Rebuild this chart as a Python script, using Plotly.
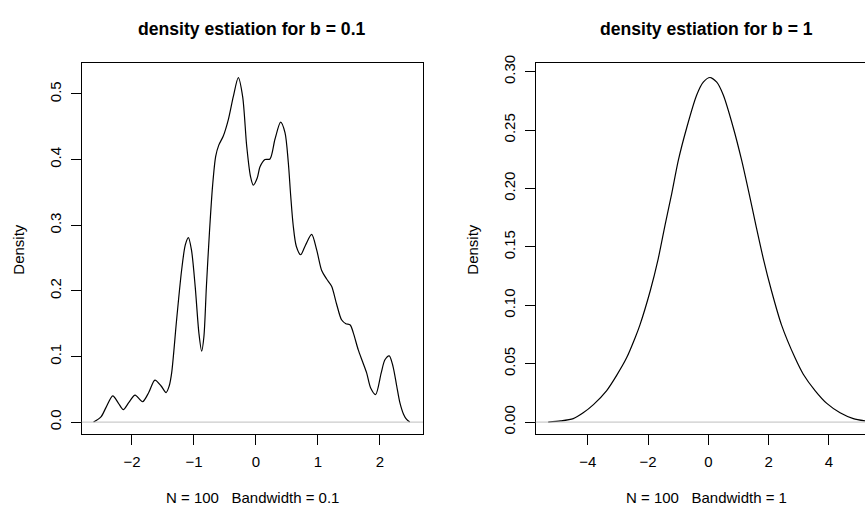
import plotly.graph_objects as go

W, H = 865, 510

# ---- data ----
x_b01 = [-2.62, -2.50, -2.42, -2.31, -2.22, -2.14, -2.05, -1.95, -1.83, -1.73,
         -1.63, -1.53, -1.45, -1.40, -1.36, -1.28, -1.20, -1.14, -1.09, -1.04,
         -0.98, -0.92, -0.876, -0.84, -0.80, -0.75, -0.70, -0.65, -0.60, -0.527,
         -0.446, -0.366, -0.285, -0.215, -0.15, -0.09, -0.043, 0.02, 0.065, 0.145,
         0.226, 0.306, 0.398, 0.468, 0.521, 0.56, 0.60, 0.65, 0.721, 0.80,
         0.898, 0.98, 1.06, 1.14, 1.22, 1.30, 1.38, 1.45, 1.52, 1.57,
         1.65, 1.72, 1.785, 1.85, 1.93, 2.02, 2.08, 2.15, 2.21, 2.27,
         2.32, 2.38, 2.43, 2.48]
y_b01 = [0.000, 0.008, 0.022, 0.040, 0.029, 0.019, 0.030, 0.041, 0.031, 0.045,
         0.064, 0.055, 0.045, 0.055, 0.075, 0.156, 0.231, 0.270, 0.281, 0.262,
         0.206, 0.135, 0.108, 0.130, 0.206, 0.290, 0.360, 0.405, 0.422, 0.436,
         0.461, 0.496, 0.525, 0.496, 0.421, 0.375, 0.361, 0.372, 0.389, 0.400,
         0.401, 0.431, 0.457, 0.441, 0.396, 0.345, 0.300, 0.268, 0.255, 0.270,
         0.286, 0.262, 0.231, 0.218, 0.207, 0.180, 0.156, 0.150, 0.148, 0.136,
         0.110, 0.092, 0.075, 0.052, 0.042, 0.075, 0.095, 0.101, 0.085, 0.055,
         0.030, 0.012, 0.004, 0.000]

x_b1 = [-5.31, -4.90, -4.48, -4.15, -3.81, -3.37, -3.04, -2.71, -2.43, -2.27,
        -1.93, -1.66, -1.44, -1.21, -0.995, -0.716, -0.385, -0.166, 0.056, 0.28,
        0.497, 0.829, 1.107, 1.35, 1.582, 1.824, 2.10, 2.43, 2.876, 3.15,
        3.54, 3.93, 4.37, 4.81, 5.2]
y_b1 = [0.000, 0.001, 0.003, 0.008, 0.015, 0.027, 0.040, 0.055, 0.072, 0.083,
        0.112, 0.140, 0.168, 0.196, 0.224, 0.252, 0.280, 0.291, 0.295, 0.291,
        0.280, 0.252, 0.224, 0.196, 0.168, 0.140, 0.112, 0.083, 0.055, 0.041,
        0.027, 0.016, 0.008, 0.003, 0.001]

left_xticks = [-2, -1, 0, 1, 2]
left_yticks = [0.0, 0.1, 0.2, 0.3, 0.4, 0.5]
left_ytext = ["0.0", "0.1", "0.2", "0.3", "0.4", "0.5"]
right_xticks = [-4, -2, 0, 2, 4]
right_yticks = [0.00, 0.05, 0.10, 0.15, 0.20, 0.25, 0.30]
right_ytext = ["0.00", "0.05", "0.10", "0.15", "0.20", "0.25", "0.30"]

titles = ["density estiation for b = 0.1", "density estiation for b = 1"]
xlabels = ["N = 100   Bandwidth = 0.1", "N = 100   Bandwidth = 1"]
ylabel = "Density"

FONT = "Liberation Sans, Arial, Helvetica, sans-serif"
FS = 15
FS_TITLE = 17.6


def fx(p):
    return p / W


def fy(p):
    return 1 - p / H


fig = go.Figure()
fig.add_trace(go.Scatter(x=x_b01, y=y_b01, mode="lines", xaxis="x", yaxis="y",
                         line=dict(color="black", width=1.2, shape="spline", smoothing=0.8),
                         hoverinfo="skip", showlegend=False))
fig.add_trace(go.Scatter(x=x_b1, y=y_b1, mode="lines", xaxis="x2", yaxis="y2",
                         line=dict(color="black", width=1.2, shape="spline", smoothing=0.7),
                         hoverinfo="skip", showlegend=False))

ydom = [fy(433), fy(56)]
common_x = dict(showline=True, linecolor="black", linewidth=1, ticks="outside",
                ticklen=10, tickwidth=1, tickcolor="black", showgrid=False,
                zeroline=False, fixedrange=True, ticklabelstandoff=4,
                tickfont=dict(family=FONT, size=FS, color="black"))
common_y = dict(showline=True, linecolor="black", linewidth=1, ticks="outside",
                ticklen=10, tickwidth=1, tickcolor="black", showgrid=False,
                zeroline=False, fixedrange=True, tickangle=-90, ticklabelstandoff=4,
                tickfont=dict(family=FONT, size=FS, color="black"))

fig.update_layout(
    width=W, height=H, autosize=False,
    margin=dict(l=0, r=0, t=0, b=0),
    paper_bgcolor="white", plot_bgcolor="white",
    font=dict(family=FONT, size=FS, color="black"),
    xaxis=dict(domain=[fx(81.7), fx(423)], range=[-2.811, 2.694], anchor="y",
               tickvals=left_xticks, mirror=True, **common_x),
    yaxis=dict(domain=ydom, range=[-0.01845, 0.547], anchor="x",
               tickvals=left_yticks, ticktext=left_ytext, mirror=True, **common_y),
    xaxis2=dict(domain=[fx(535.7), 1.0], range=[-5.725, 5.197], anchor="y2",
                tickvals=right_xticks, mirror=True, **common_x),
    yaxis2=dict(domain=ydom, range=[-0.01037, 0.3073], anchor="x2",
                tickvals=right_yticks, ticktext=right_ytext, mirror=False, **common_y),
    shapes=[
        dict(type="line", xref="x domain", x0=0, x1=1, yref="y", y0=0, y1=0,
             line=dict(color="#BEBEBE", width=1), layer="above"),
        dict(type="line", xref="x2 domain", x0=0, x1=1, yref="y2", y0=0, y1=0,
             line=dict(color="#BEBEBE", width=1), layer="above"),
    ],
)

centers = [252.3, 706.7]
ylab_x = [18.5, 472.5]
ann = []
for i in range(2):
    ann.append(dict(text="<b>" + titles[i] + "</b>", x=fx(centers[i]), y=fy(21),
                    xref="paper", yref="paper", showarrow=False,
                    xanchor="center", yanchor="middle",
                    font=dict(family=FONT, size=FS_TITLE, color="black")))
    ann.append(dict(text=xlabels[i].replace(" ", "\u00a0"), x=fx(centers[i]), y=fy(497.5),
                    xref="paper", yref="paper", showarrow=False,
                    xanchor="center", yanchor="middle",
                    font=dict(family=FONT, size=FS, color="black")))
    ann.append(dict(text=ylabel, x=fx(ylab_x[i]), y=fy(245), textangle=-90,
                    xref="paper", yref="paper", showarrow=False,
                    xanchor="center", yanchor="middle",
                    font=dict(family=FONT, size=FS, color="black")))
fig.update_layout(annotations=ann)

fig.write_html("out.html", config={"displayModeBar": False})
